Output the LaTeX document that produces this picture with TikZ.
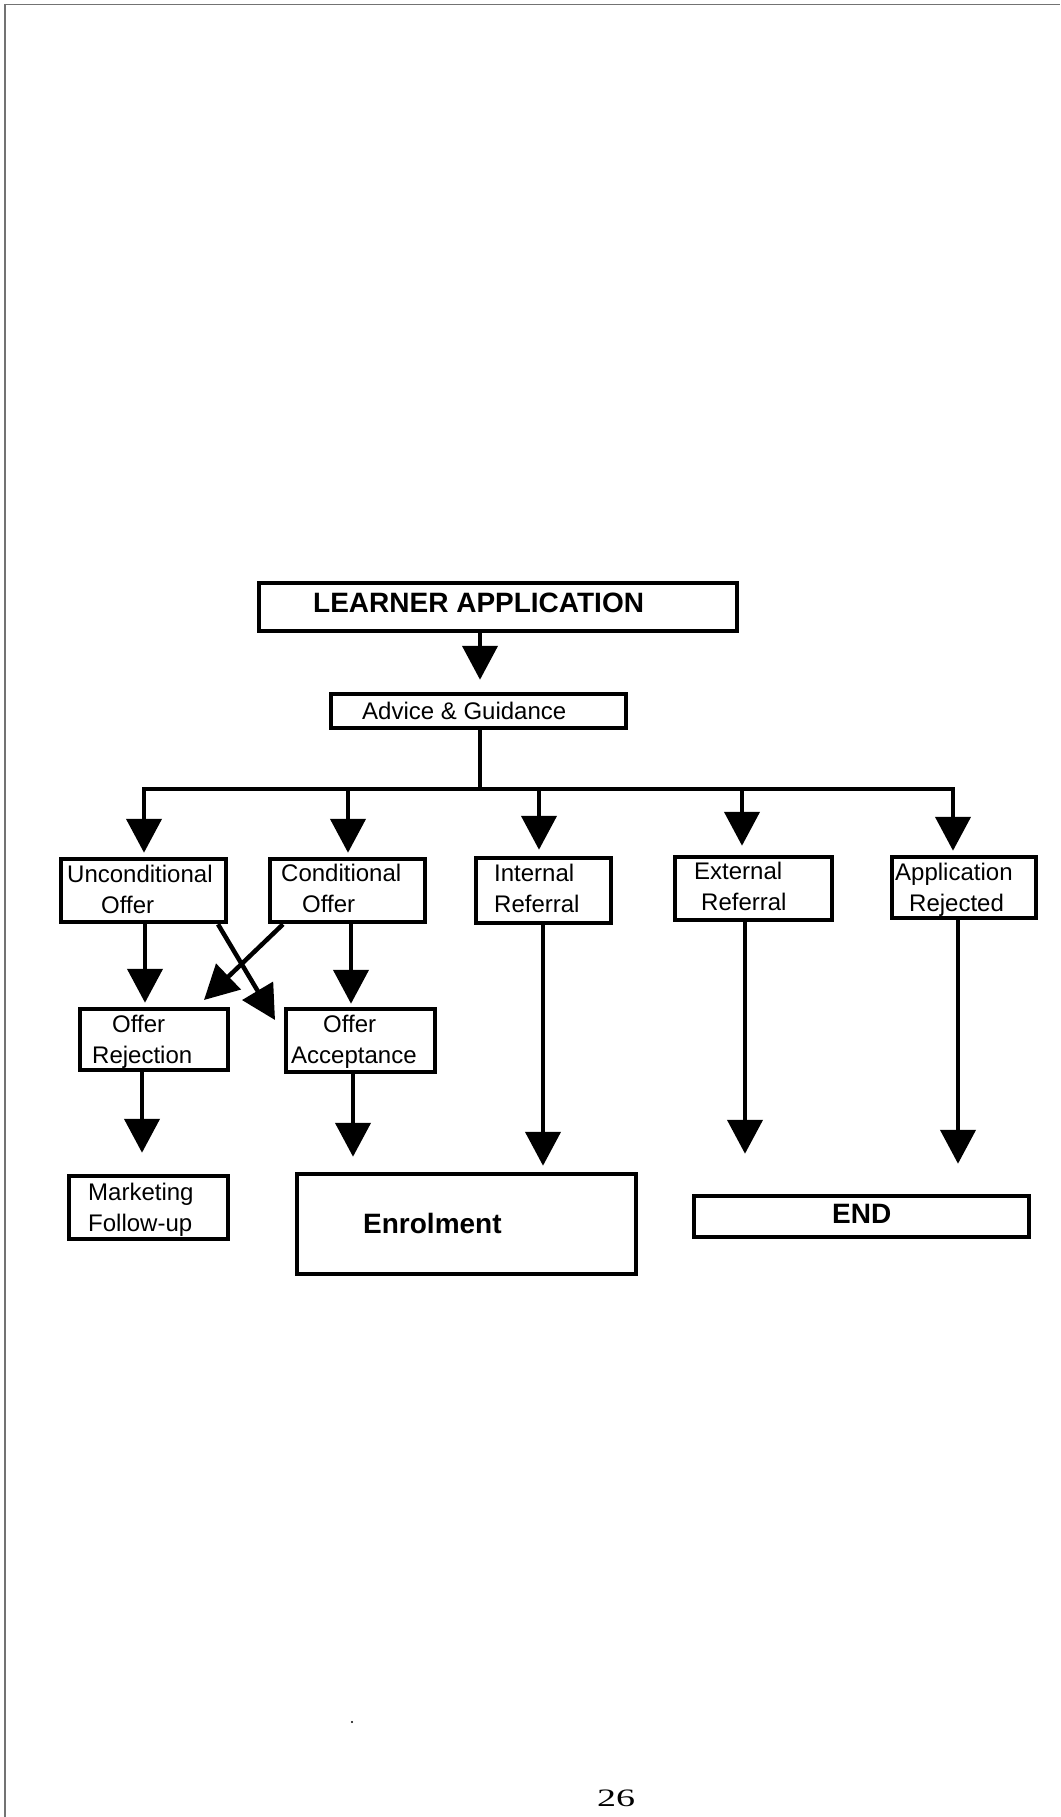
\documentclass[tikz,border=0pt]{standalone}
\usepackage{fontspec}
\setmainfont{Liberation Sans}
\newfontfamily\serifpn{Liberation Serif}
\usetikzlibrary{arrows.meta}
\begin{document}
\begin{tikzpicture}[x=1pt,y=-1pt,
  boxst/.style={draw, line width=4.5pt, rectangle, inner sep=0pt},
  txt/.style={inner sep=0pt, anchor=base west, font=\fontsize{24pt}{31pt}\selectfont},
  bigtxt/.style={inner sep=0pt, anchor=base west, font=\fontsize{28pt}{34pt}\selectfont\bfseries},
  ln/.style={line width=4.5pt},
  arr/.style={line width=4.5pt, -{Triangle[width=35pt,length=34pt]}},
  scan/.style={line width=1.5pt, black!55}]
\useasboundingbox (0,0) rectangle (1060,1817);
\clip (0,0) rectangle (1060,1817);
% scan border
\draw[scan] (4,4.5) -- (1060,4.5);
\draw[scan] (5,4) -- (5,1817);
% boxes
\node[boxst, minimum width=478pt, minimum height=48pt] (la) at (498,607) {};
\node[boxst, minimum width=295pt, minimum height=34pt] (ag) at (478.5,711) {};
\node[boxst, minimum width=165pt, minimum height=63pt] (uo) at (143.5,890.5) {};
\node[boxst, minimum width=155pt, minimum height=63pt] (co) at (347.5,890.5) {};
\node[boxst, minimum width=135pt, minimum height=65pt] (ir) at (543.5,890.5) {};
\node[boxst, minimum width=157pt, minimum height=63pt] (er) at (753.5,888.5) {};
\node[boxst, minimum width=144pt, minimum height=61pt] (ar) at (964,887.5) {};
\node[boxst, minimum width=148pt, minimum height=61pt] (rej) at (154,1039.5) {};
\node[boxst, minimum width=149pt, minimum height=63pt] (acc) at (360.5,1040.5) {};
\node[boxst, minimum width=159pt, minimum height=63pt] (mkt) at (148.5,1207.5) {};
\node[boxst, minimum width=339pt, minimum height=100pt] (enr) at (466.5,1224) {};
\node[boxst, minimum width=335pt, minimum height=41pt] (endb) at (861.5,1216.5) {};
% texts
\node[bigtxt] (lat) at (313,612) {LEARNER APPLICATION};
\node[txt] (agt) at (362,719) {Advice \& Guidance};
\node[txt] (uot) at (67,882) {\begin{tabular}[t]{@{}l@{}}Unconditional\\\hspace*{34pt}Offer\end{tabular}};
\node[txt] (cot) at (281,881) {\begin{tabular}[t]{@{}l@{}}Conditional\\\hspace*{21pt}Offer\end{tabular}};
\node[txt] (irt) at (494,881) {\begin{tabular}[t]{@{}l@{}}Internal\\Referral\end{tabular}};
\node[txt] (ert) at (694,879) {\begin{tabular}[t]{@{}l@{}}External\\\hspace*{7pt}Referral\end{tabular}};
\node[txt] (art) at (895,880) {\begin{tabular}[t]{@{}l@{}}Application\\\hspace*{14pt}Rejected\end{tabular}};
\node[txt] (rejt) at (92,1032) {\begin{tabular}[t]{@{}l@{}}\hspace*{20pt}Offer\\Rejection\end{tabular}};
\node[txt] (acct) at (291,1032) {\begin{tabular}[t]{@{}l@{}}\hspace*{32pt}Offer\\Acceptance\end{tabular}};
\node[txt] (mktt) at (88,1200) {\begin{tabular}[t]{@{}l@{}}Marketing\\Follow-up\end{tabular}};
\node[bigtxt] (enrt) at (363,1233) {Enrolment};
\node[bigtxt] (endt) at (832,1223) {END};
% column coordinates
\coordinate (agx) at (480,0);
\coordinate (busL) at (142,789);
\coordinate (busR) at (955,789);
\coordinate (c1) at (144,0);
\coordinate (c2) at (348,0);
\coordinate (c3) at (539,0);
\coordinate (c4) at (742,0);
\coordinate (c5) at (953,0);
\coordinate (d1) at (145,0);
\coordinate (d2) at (351,0);
\coordinate (d3) at (543,0);
\coordinate (d4) at (745,0);
\coordinate (d5) at (958,0);
\coordinate (e1) at (142,0);
\coordinate (e2) at (353,0);
\coordinate (s1) at (283,0);
\coordinate (s2) at (218,0);
\coordinate (t1) at (204,1000);
\coordinate (t2) at (275,1020);
% connectors
\draw[arr, shorten >=12pt] (agx |- la.south) -- (agx |- ag.north);
\draw[ln] (agx |- ag.south) -- (agx |- busL);
\draw[ln] (busL) -- (busR);
\draw[arr, shorten >=4pt] (c1 |- busL) -- (c1 |- uo.north);
\draw[arr, shorten >=4pt] (c2 |- busL) -- (c2 |- co.north);
\draw[arr, shorten >=6pt] (c3 |- busL) -- (c3 |- ir.north);
\draw[arr, shorten >=9pt] (c4 |- busL) -- (c4 |- er.north);
\draw[arr, shorten >=4pt] (c5 |- busR) -- (c5 |- ar.north);
\draw[arr, shorten >=4pt] (d1 |- uo.south) -- (d1 |- rej.north);
\draw[arr, shorten >=3pt] (d2 |- co.south) -- (d2 |- acc.north);
\draw[arr] (s1 |- co.south) -- (t1);
\draw[arr] (s2 |- uo.south) -- (t2);
\draw[arr, shorten >=21pt] (e1 |- rej.south) -- (e1 |- mkt.north);
\draw[arr, shorten >=15pt] (e2 |- acc.south) -- (e2 |- enr.north);
\draw[arr, shorten >=6pt] (d3 |- ir.south) -- (d3 |- enr.north);
\draw[arr, shorten >=40pt] (d4 |- er.south) -- (d4 |- endb.north);
\draw[arr, shorten >=30pt] (d5 |- ar.south) -- (d5 |- endb.north);
% speck and page number
\fill (352,1722) circle (1.2pt);
\node[inner sep=0pt, anchor=south west, font=\serifpn\fontsize{38pt}{38pt}\selectfont] (pg) at (597,1807) {\scalebox{1}[0.66]{26}};
\end{tikzpicture}
\end{document}
